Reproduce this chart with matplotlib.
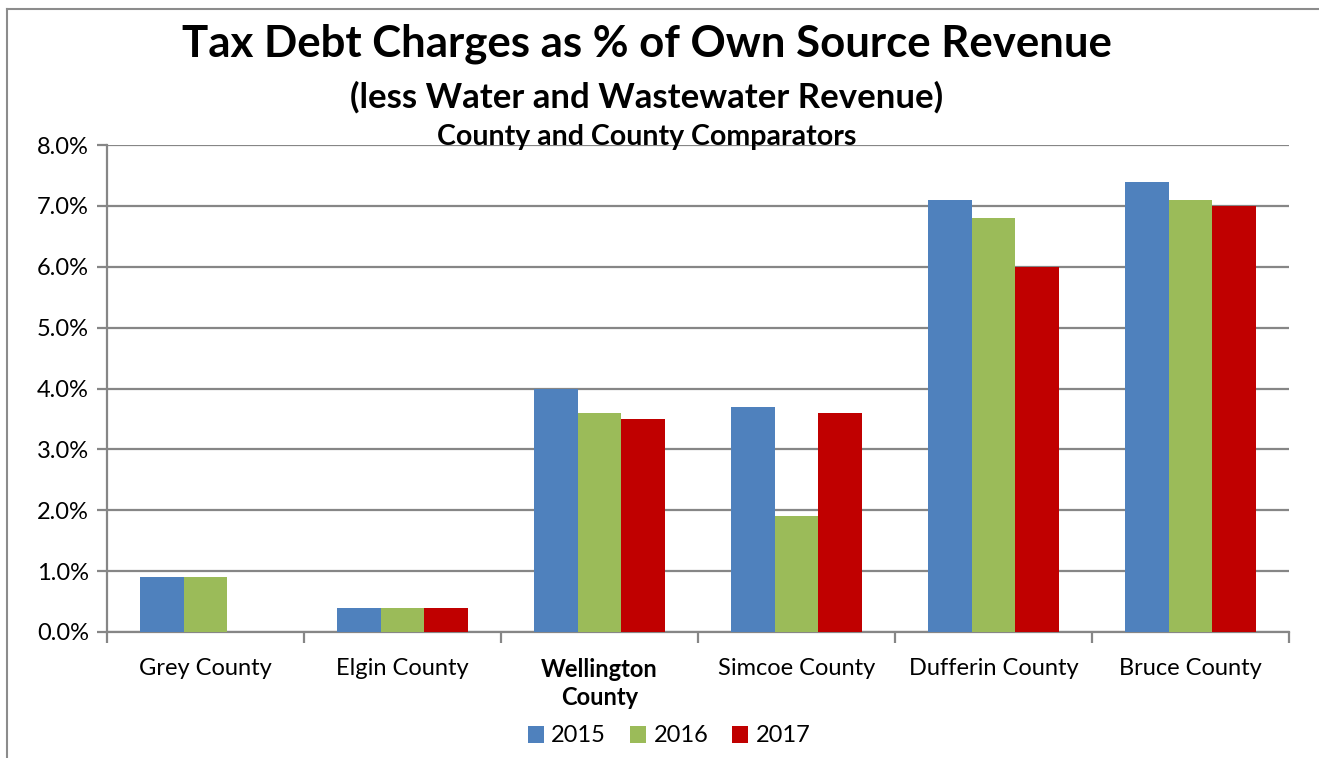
import matplotlib
matplotlib.use("Agg")
import matplotlib.pyplot as plt
import numpy as np
from matplotlib.patches import Patch
from matplotlib.lines import Line2D

categories = ["Grey County", "Elgin County", "Wellington\nCounty", "Simcoe County", "Dufferin County", "Bruce County"]
years = ["2015", "2016", "2017"]
v2015 = [0.9, 0.4, 4.0, 3.7, 7.1, 7.4]
v2016 = [0.9, 0.4, 3.6, 1.9, 6.8, 7.1]
v2017 = [0.0, 0.4, 3.5, 3.6, 6.0, 7.0]
yticks = [0, 1, 2, 3, 4, 5, 6, 7, 8]

colors = ["#4F81BD", "#9BBB59", "#C00000"]
FONT = "Lato"
plt.rcParams['font.family'] = [FONT, 'DejaVu Sans']

W, H = 1319, 758
fig = plt.figure(figsize=(W/100, H/100), dpi=100)
left, right, top, bottom = 107, 1289, 145, 632
ax = fig.add_axes([left/W, 1-bottom/H, (right-left)/W, (bottom-top)/H])

n = len(categories)
x = np.arange(n)
bw = 1/4.5
series = [v2015, v2016, v2017]
for i, (vals, c) in enumerate(zip(series, colors)):
    ax.bar(x + (i-1)*bw, vals, width=bw, color=c, zorder=3, linewidth=0)

ax.set_xlim(-0.5, n-0.5)
ax.set_ylim(0, 8)
ax.set_yticks(yticks)
ax.set_yticklabels([f"{t:.1f}%" for t in yticks], fontsize=17)
for t in yticks:
    ax.axhline(t, color="#868686", lw=1.6, zorder=1)
for s in ["top", "right"]:
    ax.spines[s].set_visible(False)
ax.spines["left"].set_color("#868686")
ax.spines["left"].set_linewidth(1.6)
ax.spines["bottom"].set_color("#868686")
ax.spines["bottom"].set_linewidth(1.6)
ax.tick_params(axis="y", length=7, width=1.6, color="#868686", pad=6)
ax.set_xticks(np.arange(n+1)-0.5)
ax.set_xticklabels([])
ax.tick_params(axis="x", length=8, width=1.6, color="#868686")
for i, cat in enumerate(categories):
    bold = "Wellington" in cat
    ax.text(i, -0.42, cat, ha="center", va="top", fontsize=17,
            fontweight="bold" if bold else "normal", linespacing=1.3,
            transform=ax.transData, clip_on=False)

fig.text(647/W, 1-44/H, "Tax Debt Charges as % of Own Source Revenue", ha="center", va="center",
         fontsize=31.5, fontweight="bold")
fig.text(647/W, 1-97/H, "(less Water and Wastewater Revenue)", ha="center", va="center",
         fontsize=25, fontweight="bold")
fig.text(647/W, 1-137/H, "County and County Comparators", ha="center", va="center",
         fontsize=20.5, fontweight="bold")

handles = [Patch(facecolor=c, edgecolor="none") for c in colors]
fig.legend(handles, years, loc="center", bbox_to_anchor=(669/W, 1-736/H), ncol=3, frameon=False,
           fontsize=17, handlelength=0.7, handleheight=0.7, handletextpad=0.3, columnspacing=1.0)

# outer border (top and left)
fig.add_artist(Line2D([7/W, 1], [1-9/H, 1-9/H], color="#8c8c8c", lw=1.5, transform=fig.transFigure))
fig.add_artist(Line2D([7/W, 7/W], [0, 1-9/H], color="#8c8c8c", lw=1.5, transform=fig.transFigure))

fig.savefig("out.png", dpi=100)
